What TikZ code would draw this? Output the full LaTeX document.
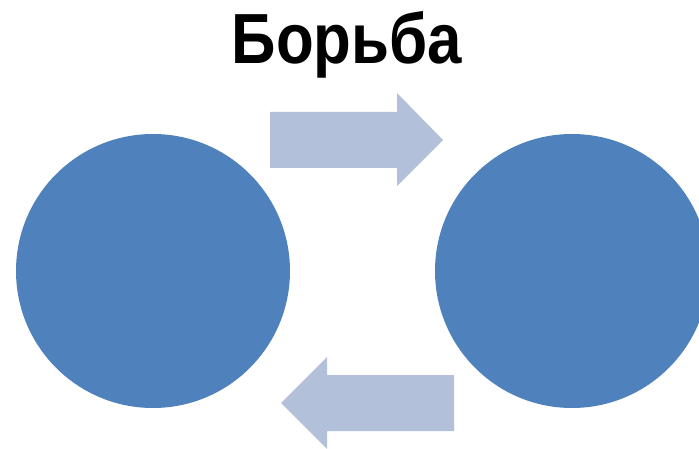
\documentclass[tikz,border=0pt]{standalone}
\usepackage{fontspec}
\setmainfont{Liberation Sans}
\definecolor{circblue}{HTML}{4F81BD}
\definecolor{arrblue}{HTML}{B2C1D9}
\begin{document}
\begin{tikzpicture}[x=1pt,y=-1pt,
  circ/.style={fill=circblue,draw=none},
  arr/.style={fill=arrblue,draw=none}]
\useasboundingbox (0,0) rectangle (699,449);
\node[anchor=base,xscale=0.87,font=\fontsize{71}{80}\selectfont\bfseries,inner sep=0pt] (title) at (347,64) {Борьба};
\fill[circ] (153,271) circle[radius=137];
\node[circle,minimum size=274pt,inner sep=0pt] (left) at (153,271) {};
\fill[circ] (572,271) circle[radius=137];
\node[circle,minimum size=274pt,inner sep=0pt] (right) at (572,271) {};
\fill[arr] (270,112) -- (397,112) -- (397,93) -- (443,140) -- (397,186) -- (397,168) -- (270,168) -- cycle;
\fill[arr] (454,375) -- (327,375) -- (327,357) -- (281,403) -- (327,449) -- (327,431) -- (454,431) -- cycle;
\end{tikzpicture}
\end{document}
